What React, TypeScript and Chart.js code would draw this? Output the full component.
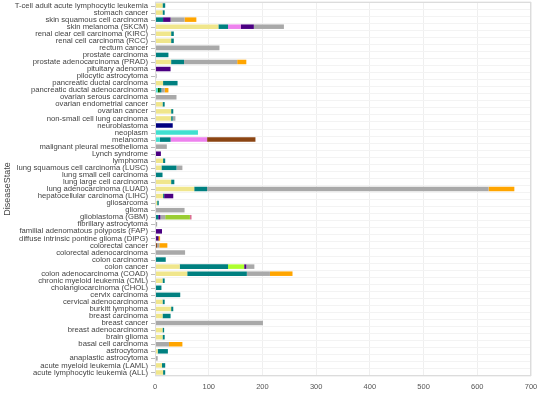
import { useEffect, useRef } from "react";
import { Chart, registerables } from "chart.js";
Chart.register(...registerables);

const _ = null;

const categories = [
  "T-cell adult acute lymphocytic leukemia",
  "stomach cancer",
  "skin squamous cell carcinoma",
  "skin melanoma (SKCM)",
  "renal clear cell carcinoma (KIRC)",
  "renal cell carcinoma (RCC)",
  "rectum cancer",
  "prostate carcinoma",
  "prostate adenocarcinoma (PRAD)",
  "pituitary adenoma",
  "pilocytic astrocytoma",
  "pancreatic ductal carcinoma",
  "pancreatic ductal adenocarcinoma",
  "ovarian serous carcinoma",
  "ovarian endometrial cancer",
  "ovarian cancer",
  "non-small cell lung carcinoma",
  "neuroblastoma",
  "neoplasm",
  "melanoma",
  "malignant pleural mesothelioma",
  "Lynch syndrome",
  "lymphoma",
  "lung squamous cell carcinoma (LUSC)",
  "lung small cell carcinoma",
  "lung large cell carcinoma",
  "lung adenocarcinoma (LUAD)",
  "hepatocellular carcinoma (LIHC)",
  "gliosarcoma",
  "glioma",
  "glioblastoma (GBM)",
  "fibrillary astrocytoma",
  "familial adenomatous polyposis (FAP)",
  "diffuse intrinsic pontine glioma (DIPG)",
  "colorectal cancer",
  "colorectal adenocarcinoma",
  "colon carcinoma",
  "colon cancer",
  "colon adenocarcinoma (COAD)",
  "chronic myeloid leukemia (CML)",
  "cholangiocarcinoma (CHOL)",
  "cervix carcinoma",
  "cervical adenocarcinoma",
  "burkitt lymphoma",
  "breast carcinoma",
  "breast cancer",
  "breast adenocarcinoma",
  "brain glioma",
  "basal cell carcinoma",
  "astrocytoma",
  "anaplastic astrocytoma",
  "acute myeloid leukemia (LAML)",
  "acute lymphocytic leukemia (ALL)",
];

const xTicks = [0, 100, 200, 300, 400, 500, 600, 700];

const khakiValues = [
  14, 14, _, 118, 30, 30, _, _, 30, _,
  _, 15, _, _, 14, 30, 30, _, _, _,
  _, _, 15, 12, _, 30, 73, 15, 4, _,
  _, _, _, _, _, _, _, 46, 60, 14,
  _, _, 14, 30, 14, _, 14, 14, _, 5,
  _, 13, 15,
];
const turquoiseValues = [
  _, _, _, _, _, _, _, _, _, _,
  _, _, 5, _, _, _, _, _, 80, 9,
  _, _, _, _, _, _, _, _, _, _,
  _, _, _, _, _, _, _, _, _, _,
  _, _, _, _, _, _, _, _, _, _,
  _, _, _,
];
const darkgreenValues = [
  _, _, _, _, _, _, _, _, _, _,
  _, _, 4, _, _, _, _, _, _, _,
  _, _, _, _, _, _, _, _, _, _,
  _, _, _, _, _, _, _, _, _, _,
  _, _, _, _, _, _, _, _, _, _,
  _, _, _,
];
const tealValues = [
  5, 4, 15, 18, 5, 5, _, 25, 24, _,
  _, 27, 3, _, 4, 4, 3, _, _, 20,
  _, _, 4, 28, 14, 6, 24, 2, 3, _,
  6, _, _, _, _, _, 20, 90, 111, 4,
  12, 47, 4, 4, 15, _, 3, 4, _, 19,
  _, 6, 4,
];
const violetValues = [
  _, _, _, 24, _, _, _, _, _, _,
  _, _, _, _, _, _, _, _, _, 68,
  _, _, _, _, _, _, _, _, _, _,
  _, _, _, _, _, _, _, _, _, _,
  _, _, _, _, _, _, _, _, _, _,
  _, _, _,
];
const greenyellowValues = [
  _, _, _, _, _, _, _, _, _, _,
  _, _, _, _, _, _, _, _, _, _,
  _, _, _, _, _, _, _, _, _, _,
  _, _, _, _, _, _, _, 30, _, _,
  _, _, _, _, _, _, _, _, _, _,
  _, _, _,
];
const indigoValues = [
  _, _, 14, 24, _, _, _, _, _, 29,
  _, _, _, _, _, _, _, _, _, _,
  _, 11, _, _, _, _, _, 17, _, _,
  4, _, 13, 6, _, _, _, 4, _, _,
  _, _, _, _, _, _, _, _, _, _,
  _, _, _,
];
const navyValues = [
  _, _, _, _, _, _, _, _, _, _,
  _, _, _, _, _, _, _, 33, _, _,
  _, _, _, _, _, _, _, _, _, _,
  _, _, _, _, _, _, _, _, _, _,
  _, _, _, _, _, _, _, _, _, _,
  _, _, _,
];
const brownValues = [
  _, _, _, _, _, _, _, _, _, _,
  _, _, _, _, _, _, _, _, _, 90,
  _, _, _, _, _, _, _, _, _, _,
  _, _, _, 1.5, 4, _, _, _, _, _,
  _, _, _, _, _, _, _, _, _, _,
  _, _, _,
];
const grayValues = [
  _, _, 26, 56, _, _, 120, _, 99, _,
  3, _, 6, 40, _, _, 5, _, _, _,
  22, _, _, 11, _, _, 524, _, _, 55,
  9, 4, _, _, 4, 56, _, 15, 43, _,
  _, _, _, _, _, 201, _, _, 26, _,
  5, _, _,
];
const yellowgreenValues = [
  _, _, _, _, _, _, _, _, _, _,
  _, _, _, _, _, _, _, _, _, _,
  _, _, _, _, _, _, _, _, _, _,
  46, _, _, _, _, _, _, _, _, _,
  _, _, _, _, _, _, _, _, _, _,
  _, _, _,
];
const pinkValues = [
  _, _, _, _, _, _, _, _, _, _,
  _, _, _, _, _, _, _, _, _, _,
  _, _, _, _, _, _, _, _, _, _,
  3, _, _, _, _, _, _, _, _, _,
  _, _, _, _, _, _, _, _, _, _,
  _, _, _,
];
const orangeValues = [
  _, _, 22, _, _, _, _, _, 17, _,
  _, _, 7, _, _, _, _, _, _, _,
  _, _, _, _, _, _, 48, _, _, _,
  _, _, _, 2, 15, _, _, _, 42, _,
  _, _, _, _, _, _, _, _, 25, _,
  _, _, _,
];

const seriesNames = [
  "khaki", "turquoise", "darkgreen", "teal", "violet", "greenyellow", "indigo",
  "navy", "saddlebrown", "darkgray", "yellowgreen", "palevioletred", "orange",
];
const seriesColors = [
  "#F0E68C", "#40E0D0", "#006400", "#008080", "#EE82EE", "#ADFF2F", "#4B0082",
  "#000080", "#8B4513", "#A9A9A9", "#9ACD32", "#DB7093", "#FFA500",
];
const seriesValues = [
  khakiValues, turquoiseValues, darkgreenValues, tealValues, violetValues,
  greenyellowValues, indigoValues, navyValues, brownValues, grayValues,
  yellowgreenValues, pinkValues, orangeValues,
];

const FONT = "'Liberation Sans', Arial, sans-serif";

export default function App() {
  const ref = useRef<HTMLCanvasElement>(null);
  useEffect(() => {
    const framePlugin = {
      id: "frame",
      afterDraw(chart: any) {
        const { ctx, chartArea: a, scales } = chart;
        ctx.save();
        ctx.strokeStyle = "#dcdcdc";
        ctx.lineWidth = 1;
        ctx.strokeRect(a.left + 0.5, a.top + 0.5, a.right - a.left - 1, a.bottom - a.top - 1);
        // tick marks at category centers
        const y = scales.y;
        ctx.strokeStyle = "#bbbbbb";
        for (let i = 0; i < categories.length; i++) {
          const py = Math.round(y.getPixelForValue(i)) + 0.5;
          ctx.beginPath();
          ctx.moveTo(a.left - 4, py);
          ctx.lineTo(a.left, py);
          ctx.stroke();
        }
        ctx.restore();
      },
    };
    const chart = new Chart(ref.current!, {
      type: "bar",
      data: {
        labels: categories,
        datasets: seriesNames.map((name, i) => ({
          label: name,
          data: seriesValues[i],
          backgroundColor: seriesColors[i],
          borderWidth: 0,
          barPercentage: 0.8,
          categoryPercentage: 0.8,
        })),
      },
      options: {
        indexAxis: "y",
        animation: false,
        responsive: false,
        maintainAspectRatio: false,
        plugins: { legend: { display: false }, tooltip: { enabled: false } },
        layout: { padding: { top: 2, right: 10, left: 0, bottom: 0 } },
        scales: {
          x: {
            stacked: true,
            min: 0,
            max: 700,
            afterBuildTicks: (scale: any) => {
              scale.ticks = xTicks.map((v) => ({ value: v }));
            },
            afterFit: (scale: any) => {
              scale.height = 18;
              scale.paddingLeft = 0;
              scale.paddingRight = 0;
              scale.paddingTop = 0;
              scale.paddingBottom = 0;
            },
            ticks: { font: { family: FONT, size: 7.5 }, color: "#555", padding: 6 },
            grid: { color: "#efefef", drawTicks: false },
            border: { display: false },
          },
          y: {
            stacked: true,
            afterFit: (scale: any) => {
              scale.width = 155;
              scale.paddingLeft = 0;
              scale.paddingRight = 0;
              scale.paddingTop = 0;
              scale.paddingBottom = 0;
            },
            ticks: {
              autoSkip: false,
              font: { family: FONT, size: 7.7 },
              color: "#444",
              padding: 0,
            },
            grid: {
              color: "#f3f3f3",
              offset: true,
              drawTicks: true,
              tickLength: 7,
              tickColor: "rgba(0,0,0,0)",
            },
            border: { display: false },
            title: {
              display: true,
              text: "DiseaseState",
              font: { family: FONT, size: 9 },
              color: "#444",
              padding: { top: 2, bottom: 2 },
            },
          },
        },
      },
      plugins: [framePlugin],
    } as any);
    return () => chart.destroy();
  }, []);
  return (
    <div style={{ position: "fixed", left: 0, top: 0, width: 541, height: 394, background: "#fff" }}>
      <canvas ref={ref} width={541} height={394} />
    </div>
  );
}
